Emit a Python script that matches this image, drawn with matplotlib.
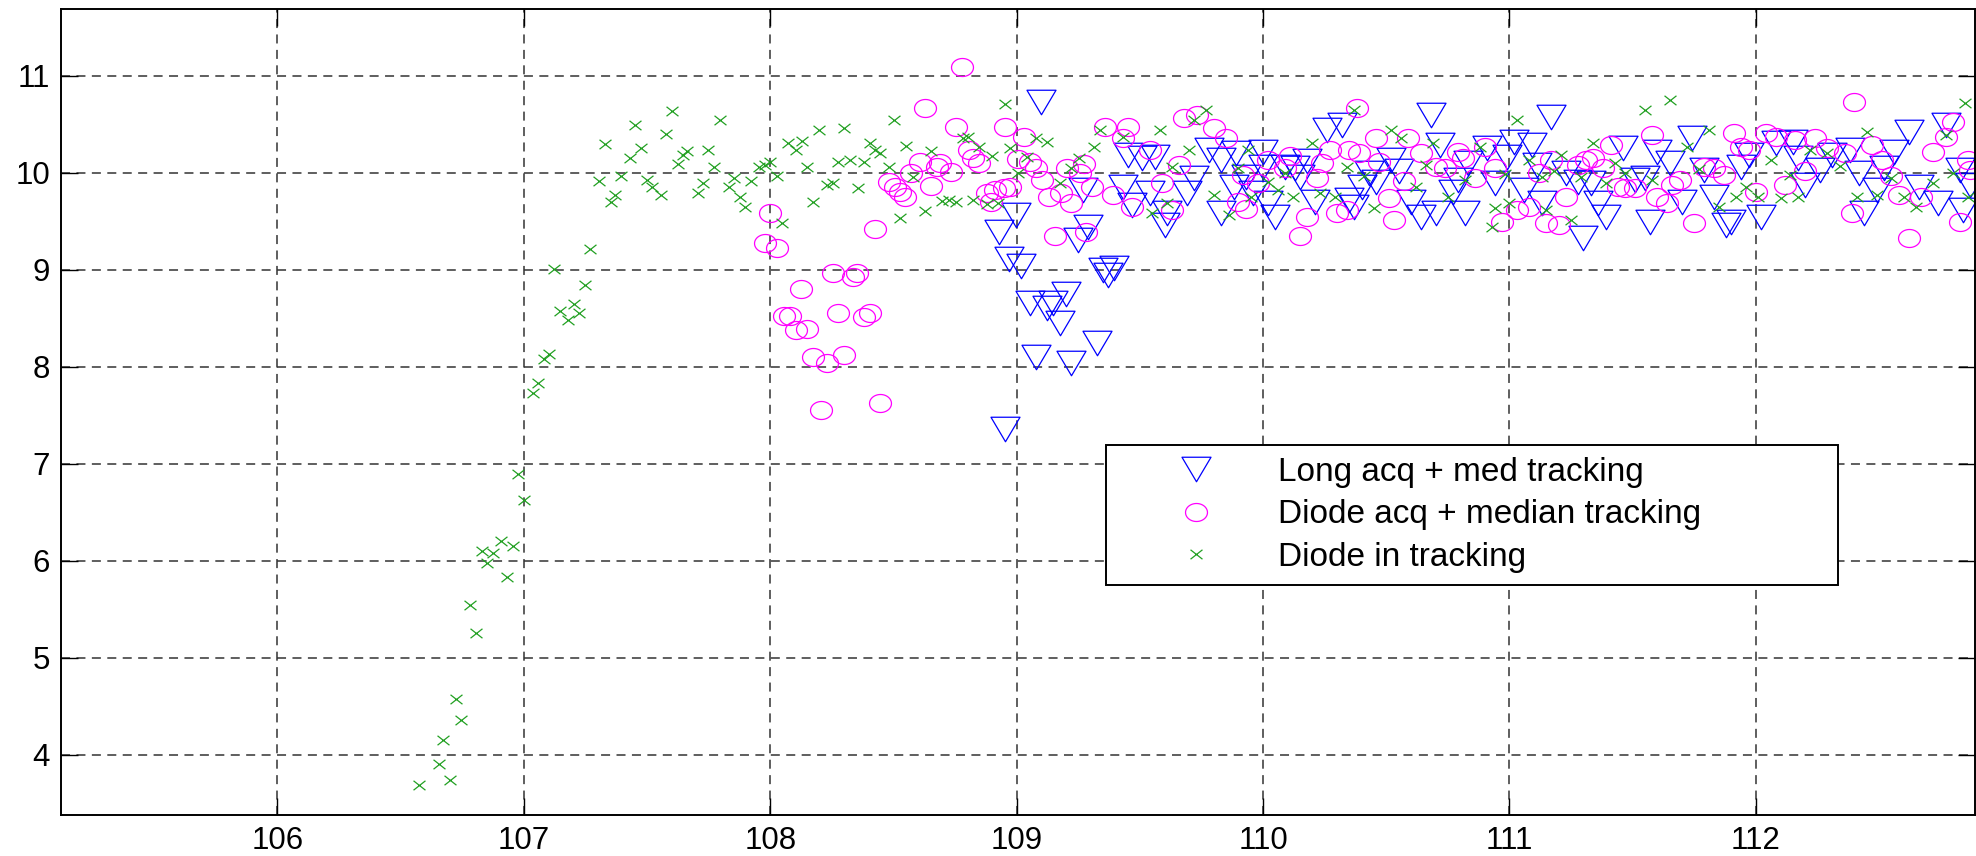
import numpy as np
import matplotlib
matplotlib.use("Agg")
import matplotlib.pyplot as plt
from matplotlib.path import Path

plt.rcParams["font.family"] = ["Liberation Sans", "DejaVu Sans"]

# ---- data ----
# "Long acq + med tracking" (blue triangles)
long_x = [
    109.099, 108.996, 108.927, 108.969, 109.019, 108.954, 109.054, 109.200,
    109.123, 109.146, 109.177, 109.077, 109.222, 109.327, 109.250, 109.291,
    109.349, 109.394, 109.371, 109.268,
    109.45, 109.51, 109.56, 109.43, 109.47, 109.54, 109.61, 109.60, 109.69,
    109.72, 109.78, 109.83, 109.89, 109.83, 109.88, 110.00, 110.00, 109.96,
    110.05, 110.02, 110.09, 110.13, 110.15, 110.26, 110.32, 110.21, 110.35,
    110.37, 110.43, 110.46, 110.52, 110.60, 110.64, 110.68, 110.70, 110.72,
    110.77, 110.82, 110.83, 110.91, 110.94, 111.02, 110.99, 111.09, 111.06,
    111.13, 111.17, 111.23, 111.28, 111.30, 111.36, 111.39, 111.46, 111.51,
    111.57, 111.60, 111.65, 111.70, 111.74, 111.79, 111.83, 111.88, 111.90,
    111.94, 112.02, 112.08, 112.15, 112.17, 112.26, 112.31, 112.38, 112.42,
    112.44, 112.49, 112.56, 112.62, 112.66, 112.74, 112.77, 112.83, 112.87,
    112.84,
    109.93, 110.18, 110.40, 110.55, 110.79, 111.11, 111.33, 111.55, 111.97,
    112.20, 112.52,
]
long_y = [
    10.735, 9.566, 9.394, 9.109, 9.040, 7.356, 8.655, 8.752,
    8.604, 8.655, 8.449, 8.105, 8.037, 8.243, 9.309, 9.446,
    9.000, 9.016, 8.948, 9.824,
    10.185, 10.151, 10.168, 9.859, 9.670, 9.790, 9.584, 9.463, 9.790,
    9.945, 10.237, 10.134, 10.202, 9.584, 9.859, 10.220, 10.065, 9.790,
    9.549, 9.687, 10.065, 10.048, 9.962, 10.443, 10.494, 9.704, 9.721,
    9.652, 9.996, 9.910, 10.134, 9.704, 9.549, 10.598, 9.584, 10.288,
    9.807, 9.584, 10.099, 10.254, 9.893, 10.323, 10.168, 10.288, 9.824,
    9.687, 10.580, 9.996, 9.910, 9.326, 9.687, 9.549, 10.254, 9.927,
    9.498, 10.220, 10.099, 9.704, 10.357, 10.031, 9.755, 9.463, 9.498,
    10.065, 9.549, 10.306, 10.323, 10.151, 10.031, 10.185, 10.237, 9.996,
    9.584, 9.824, 10.220, 10.426, 9.859, 9.687, 10.494, 10.031, 9.876,
    9.618,
    9.96, 10.12, 9.85, 10.02, 9.93, 10.08, 9.90, 9.95, 10.18,
    9.88, 10.05,
]

# "Diode acq + median tracking" (magenta circles)
acq_x = [
    108.778, 108.630, 108.755, 108.951, 108.806, 108.824, 108.847, 109.030,
    109.005, 109.054, 109.077, 109.101, 109.132, 109.182, 109.222, 109.204,
    109.259, 109.273, 109.304, 109.155, 109.282, 108.896, 108.914, 108.947,
    108.974, 108.878, 108.733, 108.688, 108.675, 108.606, 108.570, 108.652,
    108.480, 108.507, 108.525, 108.548, 108.425, 108.001, 107.978, 108.027,
    108.253, 108.335, 108.353, 108.126, 108.054, 108.081, 108.105, 108.150,
    108.277, 108.380, 108.403, 108.172, 108.231, 108.298, 108.208, 108.447,
    109.36, 109.45, 109.43, 109.54, 109.39, 109.47, 109.68, 109.73, 109.80,
    109.85, 109.66, 109.59, 109.63, 109.92, 109.90, 109.93, 110.02, 110.11,
    110.09, 110.18, 110.15, 110.22, 110.27, 110.30, 110.34, 110.38, 110.35,
    110.39, 110.46, 110.47, 110.51, 110.53, 110.59, 110.64, 110.70, 110.74,
    110.79, 110.81, 110.90, 110.94, 110.97, 111.03, 111.08, 111.15, 111.20,
    111.17, 111.23, 111.28, 111.31, 111.34, 111.41, 111.44, 111.47, 111.51,
    111.58, 111.60, 111.64, 111.69, 111.75, 111.79, 111.83, 111.87, 111.91,
    111.94, 111.97, 112.00, 112.04, 112.08, 112.12, 112.16, 112.24, 112.29,
    112.36, 112.39, 112.40, 112.47, 112.51, 112.58, 112.62, 112.67, 112.72,
    112.77, 112.80, 112.83, 112.86, 112.87,
    109.98, 110.24, 110.57, 110.86, 111.12, 111.38, 111.66, 112.20, 112.55,
]
acq_y = [
    11.096, 10.666, 10.470, 10.477, 10.237, 10.151, 10.099, 10.367,
    10.140, 10.116, 10.048, 9.927, 9.755, 9.790, 9.687, 10.048,
    9.996, 10.092, 9.852, 9.350, 9.394, 9.704, 9.824, 9.841,
    9.859, 9.790, 10.013, 10.099, 10.058, 10.116, 9.996, 9.866,
    9.910, 9.859, 9.807, 9.755, 9.419, 9.590, 9.274, 9.223,
    8.965, 8.930, 8.965, 8.800, 8.528, 8.528, 8.380, 8.387,
    8.559, 8.511, 8.552, 8.105, 8.037, 8.122, 7.555, 7.624,
    10.477, 10.477, 10.357, 10.237, 9.773, 9.652, 10.563, 10.598, 10.460,
    10.357, 10.082, 9.893, 9.618, 9.979, 9.704, 9.625, 10.134, 10.175,
    10.048, 9.549, 9.350, 9.945, 10.237, 9.584, 9.618, 10.666, 10.237,
    10.202, 10.357, 10.116, 9.738, 9.515, 10.357, 10.202, 10.065, 10.048,
    10.220, 10.151, 10.271, 10.048, 9.498, 9.618, 9.652, 9.481, 9.463,
    10.134, 9.755, 10.082, 10.134, 10.151, 10.288, 9.859, 9.841, 9.841,
    10.391, 9.755, 9.687, 9.927, 9.481, 10.065, 10.048, 9.979, 10.415,
    10.271, 10.237, 9.807, 10.408, 10.374, 9.876, 10.340, 10.357, 10.254,
    10.202, 9.584, 10.735, 10.288, 10.134, 9.773, 9.326, 9.755, 10.220,
    10.374, 10.529, 9.498, 10.134, 10.031,
    9.90, 10.10, 9.92, 9.95, 10.00, 10.05, 9.88, 10.02, 9.97,
]

# "Diode in tracking" (green crosses)
trk_x = [
    106.575, 106.654, 106.701, 106.674, 106.745, 106.724, 106.807, 106.782,
    106.931, 106.851, 106.874, 106.830, 106.955, 106.908, 107.000, 106.976,
    107.037, 107.057, 107.080, 107.104,
    107.121, 107.179, 107.146, 107.202, 107.226, 107.248, 107.269, 107.306,
    107.329, 107.353, 107.371, 107.396, 107.429, 107.452, 107.476, 107.498,
    107.519, 107.556, 107.579, 107.601, 107.625, 107.646, 107.664, 107.706,
    107.728, 107.749, 107.773, 107.795, 107.831, 107.855, 107.876, 107.896,
    107.921, 107.954, 107.978, 108.000, 108.027, 108.048, 108.072, 108.103,
    108.128, 108.150, 108.175, 108.197, 108.231, 108.253, 108.277, 108.298,
    108.324, 108.355, 108.380, 108.403, 108.425, 108.447, 108.483, 108.503,
    108.528, 108.552, 108.579, 108.630, 108.654, 108.697, 108.724, 108.755,
    108.784, 108.802, 108.824, 108.847, 108.878, 108.902, 108.924, 108.951,
    108.974, 109.005, 109.041, 109.077, 109.123, 109.177, 109.222, 109.255,
    109.313, 109.340,
    109.43, 109.58, 109.77, 109.72, 109.70, 109.63, 109.61, 109.55, 109.80,
    109.86, 109.94, 109.95, 110.02, 110.06, 110.12, 110.20, 110.23, 110.29,
    110.37, 110.34, 110.45, 110.52, 110.56, 110.62, 110.69, 110.75, 110.82,
    110.88, 110.94, 110.93, 111.00, 111.03, 111.08, 111.13, 111.15, 111.21,
    111.25, 111.29, 111.34, 111.39, 111.47, 111.55, 111.65, 111.58, 111.72,
    111.81, 111.85, 111.92, 111.96, 112.01, 112.06, 112.10, 112.17, 112.22,
    112.29, 112.41, 112.45, 112.49, 112.60, 112.65, 112.72, 112.77, 112.85,
    112.86,
    109.90, 110.09, 110.41, 110.66, 110.98, 111.18, 111.43, 111.77, 112.14,
    112.34, 112.55, 112.80,
]
trk_y = [
    3.688, 3.907, 3.739, 4.148, 4.358, 4.578, 5.259, 5.545,
    5.834, 5.976, 6.079, 6.097, 6.148, 6.200, 6.628, 6.890,
    7.734, 7.834, 8.076, 8.128,
    9.009, 8.484, 8.580, 8.649, 8.552, 8.841, 9.219, 9.920,
    10.299, 9.704, 9.773, 9.969, 10.158, 10.494, 10.254, 9.927,
    9.859, 9.773, 10.398, 10.639, 10.092, 10.185, 10.230, 9.797,
    9.900, 10.237, 10.065, 10.546, 9.859, 9.951, 9.755, 9.652,
    9.920, 10.058, 10.082, 10.110, 9.969, 9.487, 10.306, 10.237,
    10.333, 10.065, 9.704, 10.443, 9.876, 9.900, 10.110, 10.467,
    10.134, 9.848, 10.110, 10.306, 10.237, 10.209, 10.065, 10.546,
    9.532, 10.278, 9.962, 9.608, 10.230, 9.714, 9.721, 9.704,
    10.357, 10.374, 9.721, 10.271, 9.680, 10.175, 9.687, 10.711,
    10.254, 10.003, 10.168, 10.357, 10.322, 9.900, 10.048, 10.151,
    10.271, 10.443,
    10.374, 10.443, 10.649, 10.546, 10.237, 10.065, 9.687, 9.584, 9.773,
    9.567, 10.237, 9.755, 9.910, 9.824, 9.755, 10.306, 9.790, 9.755,
    10.649, 10.065, 9.635, 10.443, 10.357, 9.859, 10.306, 9.755, 9.927,
    10.271, 9.635, 9.446, 9.687, 10.546, 10.134, 9.962, 9.618, 10.185,
    9.515, 9.962, 10.306, 9.893, 9.996, 10.649, 10.752, 9.927, 10.271,
    10.443, 9.652, 9.755, 9.859, 9.755, 10.134, 9.738, 9.755, 10.237,
    10.202, 9.755, 10.426, 9.773, 9.755, 9.652, 9.893, 10.391, 10.718,
    9.755,
    10.05, 10.00, 9.97, 10.08, 9.99, 10.02, 10.10, 10.04, 9.98,
    10.07, 9.95, 10.00,
]

labels = ["Long acq + med tracking", "Diode acq + median tracking", "Diode in tracking"]
x_ticks = [106, 107, 108, 109, 110, 111, 112]
y_ticks = [4, 5, 6, 7, 8, 9, 10, 11]

# ---- marker shapes (reference is a little wider than tall) ----
tri_down = Path([(-1, 0.845), (1, 0.845), (0, -0.845), (-1, 0.845)],
                [Path.MOVETO, Path.LINETO, Path.LINETO, Path.CLOSEPOLY])
t = np.linspace(0, 2 * np.pi, 60)
ellipse = Path(np.column_stack([np.cos(t), 0.82 * np.sin(t)]), closed=True)
cross = Path([(-1, -0.79), (1, 0.79), (-1, 0.79), (1, -0.79)],
             [Path.MOVETO, Path.LINETO, Path.MOVETO, Path.LINETO])

fig = plt.figure(figsize=(19.76, 8.56), dpi=100)
ax = fig.add_axes([61 / 1976, 41 / 856, 1914 / 1976, 806 / 856])

ax.plot(long_x, long_y, ls="none", marker=tri_down, ms=20.9, mfc="none",
        mec="#0000ff", mew=0.9, label=labels[0])
ax.plot(acq_x, acq_y, ls="none", marker=ellipse, ms=15.8, mfc="none",
        mec="#ff00ff", mew=0.9, label=labels[1])
ax.plot(trk_x, trk_y, ls="none", marker=cross, ms=8.6, mfc="none",
        mec="#22a022", mew=0.9, label=labels[2])

ax.set_xlim(105.122, 112.889)
ax.set_ylim(3.378, 11.69)
ax.set_xticks(x_ticks)
ax.set_yticks(y_ticks)
ax.tick_params(direction="in", length=12, width=1.0, labelsize=22.5,
               top=True, right=True, pad=8)
for sp in ax.spines.values():
    sp.set_linewidth(1.4)
ax.grid(True, color="#333333", linewidth=1.1, linestyle=(0, (5.9, 4.2)))
ax.set_axisbelow(True)

leg = ax.legend(loc="upper left", bbox_to_anchor=(0.5459, 0.2832, 0.3824, 0.1758),
                mode="expand", fontsize=24, frameon=True, fancybox=False,
                borderaxespad=0, borderpad=0.35, handlelength=4.7,
                handletextpad=0.12, labelspacing=0.35, numpoints=1)
leg.get_frame().set_edgecolor("black")
leg.get_frame().set_linewidth(1.4)
leg.get_frame().set_alpha(1)

fig.savefig("out.png", dpi=100)
